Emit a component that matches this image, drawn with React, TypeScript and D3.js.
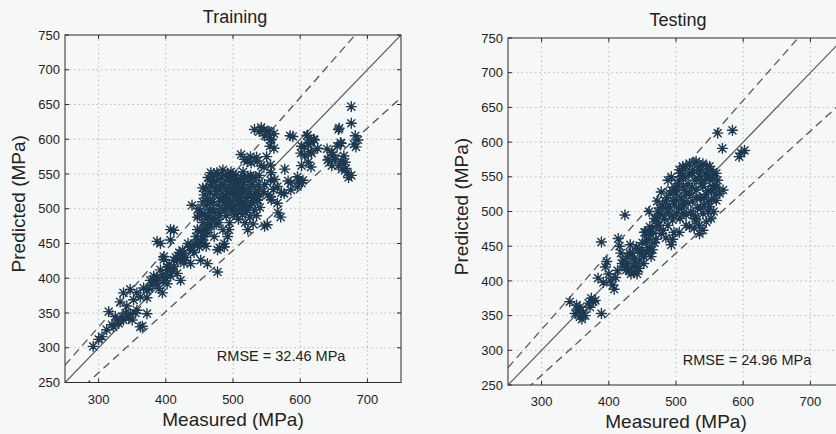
import React from "react";
import * as d3 from "d3";

const xTickValues = [300, 400, 500, 600, 700];
const yTickValues = [250, 300, 350, 400, 450, 500, 550, 600, 650, 700, 750];
const axisDomain = [250, 750];
const bandFactors = [1.1, 0.88];

const panelTitles = ["Training", "Testing"];
const rmseLabels = ["RMSE = 32.46 MPa", "RMSE = 24.96 MPa"];

const trainingPoints: [number, number][] = [
  [292,302],[300,312],[305,316],[315,352],[312,326],[320,333],[322,330],[327,340],[332,366],[335,345],
  [337,340],[342,360],[345,343],[347,349],[352,369],[357,354],[357,379],[362,373],[362,330],[365,331],
  [347,384],[337,379],[355,350],[367,386],[372,383],[372,372],[372,349],[377,397],[382,403],[382,397],
  [387,393],[387,402],[387,453],[392,412],[395,379],[397,397],[397,431],[392,450],[397,427],[402,412],
  [402,392],[402,416],[407,403],[407,470],[407,455],[407,412],[412,417],[412,426],[412,469],[417,407],
  [417,426],[420,437],[422,430],[422,397],[422,436],[427,422],[427,426],[427,436],[435,444],[437,421],
  [437,445],[439,505],[442,437],[442,450],[447,451],[447,470],[447,488],[452,455],[452,469],[452,426],
  [455,461],[457,450],[457,460],[460,446],[462,466],[462,421],[467,475],[472,460],[477,409],[477,441],
  [480,444],[487,450],[487,445],[492,460],
  [385,395],[390,385],[405,420],[410,410],[415,430],[425,440],[430,430],[433,450],[440,440],[445,460],
  [450,445],[350,340],[340,350],[330,335],[325,345],[380,390],[375,385],[395,405],[400,400],
  [455,480],[458,492],[460,505],[462,515],[465,498],[465,525],[468,485],[468,535],[470,510],[470,545],
  [472,495],[472,520],[474,530],[475,478],[476,540],[478,505],[478,550],[480,490],[480,515],[481,528],
  [483,545],[484,500],[485,470],[486,520],[487,535],[488,510],[489,548],[490,490],[491,525],[492,505],
  [493,540],[494,515],[495,480],[496,530],[497,500],[498,545],[499,520],[500,510],[501,535],[502,492],
  [503,525],[504,548],[505,505],[506,515],[507,540],[508,485],[509,530],[510,500],[511,520],[512,545],
  [513,510],[514,492],[515,535],[516,525],[518,505],[520,515],[521,498],[522,540],[524,530],[525,488],
  [527,520],[528,508],[530,545],[532,498],[534,525],[536,512],[538,535],[540,502],[463,545],[467,552],
  [472,550],[492,550],[497,553],[485,556],[458,470],[462,475],[452,495],[455,510],[448,500],[518,480],
  [522,470],[530,478],[535,490],[526,548],[515,553],
  [457,520],[460,530],[463,490],[466,510],[469,500],[471,538],[473,485],[476,525],[479,495],[482,535],
  [484,515],[487,498],[489,528],[491,512],[494,545],[496,505],[498,525],[500,540],[503,500],[505,530],
  [507,518],[510,538],[512,505],[514,528],[517,545],[519,495],[523,522],[526,505],[529,535],[531,515],
  [533,545],[537,525],[539,548],[500,550],[476,552],[465,540],[455,530],[450,490],[505,492],[517,500],
  [494,470],[478,480],[460,485],
  [512,578],[517,571],[521,568],[526,575],[527,566],[535,574],[536,568],[542,562],[546,560],[556,563],
  [522,547],[532,614],[539,611],[542,617],[546,613],[552,612],[554,611],[561,608],[547,605],[557,600],
  [556,599],[555,590],[561,587],[550,575],[585,605],[589,604],
  [547,535],[556,541],[562,542],[566,532],[572,523],[576,522],[582,540],[586,527],[586,537],[596,546],
  [596,532],[597,540],[602,537],[604,541],[557,513],[556,517],[566,508],[567,494],[571,488],[547,475],
  [551,477],[537,513],[557,552],[527,518],[577,557],[545,525],[552,520],[560,528],[540,520],
  [601,580],[602,590],[606,589],[610,605],[611,606],[612,594],[616,582],[617,580],[620,600],[621,599],
  [626,587],[607,576],[612,567],[602,562],[616,560],[615,595],
  [640,586],[641,570],[642,571],[647,562],[648,577],[652,571],[657,562],[658,616],[661,594],[661,568],
  [662,557],[668,558],[670,552],[672,545],[676,548],[667,567],[657,614],[660,595],[676,647],[676,623],
  [682,605],[686,599],[683,589],[680,593],[665,576],[655,590],[647,581]
];

const testingPoints: [number, number][] = [
  [342,370],[350,353],[354,358],[357,348],[357,362],[360,345],[362,355],[352,365],[374,375],[370,368],
  [377,370],[384,404],[389,353],[389,456],[395,420],[397,428],[402,400],[406,394],[408,388],[410,405],
  [414,461],[416,450],[418,440],[421,430],[424,495],[426,416],[428,425],[431,440],[433,410],[436,421],
  [438,432],[441,449],[443,418],[446,430],[448,442],[450,455],[452,425],[456,440],[456,459],[458,448],
  [460,470],[461,478],[463,435],[466,469],[468,455],[470,490],[471,488],[473,500],[475,480],[476,497],
  [478,468],[480,510],[481,473],[483,490],[485,505],[486,520],[488,480],[490,507],[491,526],[493,550],
  [493,452],[494,495],[495,488],[496,515],[498,535],[500,517],[501,497],[502,531],[504,505],[505,545],
  [506,490],[508,520],[510,565],[511,536],[511,498],[512,510],[514,550],[515,480],[516,525],[518,540],
  [520,569],[520,526],[520,478],[522,500],[524,555],[525,515],[527,476],[528,545],[529,490],[530,572],
  [530,531],[530,488],[532,505],[533,560],[535,550],[535,468],[536,520],[538,540],[540,569],[540,536],
  [540,497],[540,473],[542,510],[544,555],[545,525],[546,565],[548,500],[550,545],[550,507],[550,565],
  [552,530],[553,517],[555,536],[556,555],[558,525],[560,516],[560,555],[562,545],[565,526],[570,531],
  [562,613],[569,591],[584,617],[594,579],[602,588],[597,584],[497,470],[485,462],[465,445],[445,418],
  [437,412],[427,435],[420,425],[413,415],[400,410],[392,398],[380,372],[372,362],[365,350],[432,452],
  [453,470],[472,515],[460,500],[478,528],[488,545],[512,562],[506,555],
  [505,560],[510,550],[515,565],[520,555],[525,560],[528,570],[532,548],[536,560],[538,566],[543,545],
  [547,552],[552,560],[555,548],[558,538],[548,530],[542,520],[537,505],[530,520],[524,535],[518,512],
  [513,530],[508,505],[503,540],[498,510],[494,530],[489,500],[485,515],[480,495],[476,505],[472,480],
  [468,490],[464,475],[460,460],[455,470],[450,440],[445,445],[440,425],[435,440],[430,415],[425,420],
  [442,410],[452,435],[462,445],[470,460],[556,500],[552,490],[560,535],[545,485],[526,495],[535,480],
  [548,515],[515,495],[510,515],[500,525],[505,470],[495,460]
];

const datasets = [trainingPoints, testingPoints];

const panelBoxes = [
  { left: 65, right: 401, top: 35, bottom: 382.5, rmse: [476, 281] },
  { left: 508, right: 844, top: 38, bottom: 385, rmse: [510, 279] },
];

const FONT = "'Liberation Sans', Arial, Helvetica, sans-serif";
const MARK = "#1d3950";

function starPath(r: number) {
  const d = r * 0.72;
  return `M${-r},0H${r}M0,${-r}V${r}M${-d},${-d}L${d},${d}M${-d},${d}L${d},${-d}`;
}

function Panel({ idx }: { idx: number }) {
  const box = panelBoxes[idx];
  const x = d3.scaleLinear().domain(axisDomain).range([box.left, box.right]);
  const y = d3.scaleLinear().domain(axisDomain).range([box.bottom, box.top]);
  const star = starPath(5);
  const clipId = `clip-${idx}`;
  const cx = (box.left + box.right) / 2;
  const cy = (box.top + box.bottom) / 2;
  const tickLen = 4;
  const diag = d3.line<number>().x((v) => x(v)).y((v) => y(v));
  return (
    <g>
      <defs>
        <clipPath id={clipId}>
          <rect x={box.left} y={box.top} width={box.right - box.left} height={box.bottom - box.top} />
        </clipPath>
      </defs>
      <g stroke="#b9bcbd" strokeWidth={1} strokeDasharray="1.5,3">
        {xTickValues.map((t) => (
          <line key={"gx" + t} x1={x(t)} x2={x(t)} y1={box.top} y2={box.bottom} />
        ))}
        {yTickValues.slice(1, -1).map((t) => (
          <line key={"gy" + t} x1={box.left} x2={box.right} y1={y(t)} y2={y(t)} />
        ))}
      </g>
      <g clipPath={`url(#${clipId})`} fill="none">
        <path d={diag(axisDomain) || ""} stroke="#555" strokeWidth={1.2} />
        {bandFactors.map((k) => (
          <path
            key={"b" + k}
            d={d3.line<number>().x((v) => x(v)).y((v) => y(v * k))(axisDomain) || ""}
            stroke="#555"
            strokeWidth={1.3}
            strokeDasharray="8,5"
          />
        ))}
      </g>
      <g stroke={MARK} strokeWidth={1.4} fill="none" strokeLinecap="round">
        {datasets[idx].map(([m, p], i) => (
          <path key={i} d={star} transform={`translate(${x(m)},${y(p)})`} />
        ))}
      </g>
      <rect
        x={box.left}
        y={box.top}
        width={box.right - box.left}
        height={box.bottom - box.top}
        fill="none"
        stroke="#2b2b2b"
        strokeWidth={1}
      />
      <g stroke="#2b2b2b" strokeWidth={1}>
        {xTickValues.map((t) => (
          <g key={"tx" + t}>
            <line x1={x(t)} x2={x(t)} y1={box.bottom} y2={box.bottom - tickLen} />
            <line x1={x(t)} x2={x(t)} y1={box.top} y2={box.top + tickLen} />
          </g>
        ))}
        {yTickValues.map((t) => (
          <g key={"ty" + t}>
            <line x1={box.left} x2={box.left + tickLen} y1={y(t)} y2={y(t)} />
            <line x1={box.right} x2={box.right - tickLen} y1={y(t)} y2={y(t)} />
          </g>
        ))}
      </g>
      <g fontFamily={FONT} fontSize={13} fill="#222">
        {xTickValues.map((t) => (
          <text key={"lx" + t} x={x(t)} y={box.bottom + 21} textAnchor="middle">
            {t}
          </text>
        ))}
        {yTickValues.map((t) => (
          <text key={"ly" + t} x={box.left - 5} y={y(t) + 4.6} textAnchor="end">
            {t}
          </text>
        ))}
      </g>
      <text x={cx + 2} y={box.top - 12} textAnchor="middle" fontFamily={FONT} fontSize={18} fill="#222">
        {panelTitles[idx]}
      </text>
      <text x={cx} y={box.bottom + 43} textAnchor="middle" fontFamily={FONT} fontSize={19} fill="#222">
        Measured (MPa)
      </text>
      <text
        transform={`translate(${box.left - 40},${cy - 5}) rotate(-90)`}
        textAnchor="middle"
        fontFamily={FONT}
        fontSize={19}
        fill="#222"
      >
        Predicted (MPa)
      </text>
      <text x={x(box.rmse[0])} y={y(box.rmse[1])} fontFamily={FONT} fontSize={14.5} fill="#222">
        {rmseLabels[idx]}
      </text>
    </g>
  );
}

export default function App() {
  return (
    <svg
      width={836}
      height={434}
      viewBox="0 0 836 434"
      style={{ position: "absolute", left: 0, top: 0, background: "#f6f7f7", overflow: "hidden" }}
    >
      <rect x={0} y={0} width={836} height={434} fill="#f6f7f7" />
      <Panel idx={0} />
      <Panel idx={1} />
    </svg>
  );
}
